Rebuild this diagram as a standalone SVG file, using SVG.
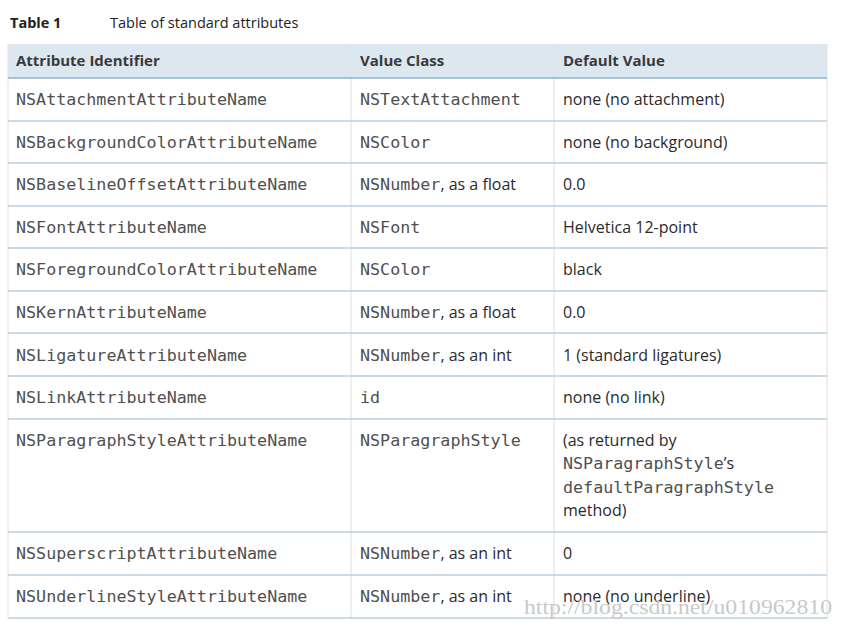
<svg xmlns="http://www.w3.org/2000/svg" width="844" height="629" viewBox="0 0 844 629">
<style>
.t{font-family:"Open Sans","Liberation Sans",sans-serif;font-size:16px;fill:#2b2b2b}
.m{font-family:"DejaVu Sans Mono","Liberation Mono",monospace;font-size:16.7px;fill:#505050}
.h{font-family:"Open Sans","Liberation Sans",sans-serif;font-size:15px;font-weight:bold;fill:#3a3a3a}
.sep{stroke:#b9cfdc;stroke-width:1.5}
.v{stroke:#e4e4e4;stroke-width:1.2}
.wm{font-family:"Liberation Serif","DejaVu Serif",serif;font-size:21px;fill:#c9c9c9}
</style>
<rect width="844" height="629" fill="#ffffff"/>
<g id="title">
<text x="10" y="28" class="h" style="font-size:14.5px;fill:#222">Table 1</text>
<text x="110" y="28" class="t" style="font-size:14.5px;fill:#222">Table of standard attributes</text>
</g>
<g id="grid">
<rect x="8" y="44" width="819" height="34" fill="#dde7f0"/>
<line x1="8" y1="44" x2="8" y2="618" class="v"/>
<line x1="827" y1="44" x2="827" y2="618" class="v"/>
<line x1="351" y1="44" x2="351" y2="618" class="v"/>
<line x1="554" y1="44" x2="554" y2="618" class="v"/>
<line x1="8" y1="78" x2="827" y2="78" stroke="#8fb2c8" stroke-width="1.5"/>
<line x1="8" y1="121" x2="827" y2="121" class="sep"/>
<line x1="8" y1="163" x2="827" y2="163" class="sep"/>
<line x1="8" y1="206" x2="827" y2="206" class="sep"/>
<line x1="8" y1="248" x2="827" y2="248" class="sep"/>
<line x1="8" y1="291" x2="827" y2="291" class="sep"/>
<line x1="8" y1="333" x2="827" y2="333" class="sep"/>
<line x1="8" y1="376" x2="827" y2="376" class="sep"/>
<line x1="8" y1="419" x2="827" y2="419" class="sep"/>
<line x1="8" y1="532" x2="827" y2="532" class="sep"/>
<line x1="8" y1="575" x2="827" y2="575" class="sep"/>
<line x1="8" y1="618" x2="827" y2="618" class="sep"/>
</g>
<g id="header">
<text x="16" y="66" class="h">Attribute Identifier</text>
<text x="360" y="66" class="h">Value Class</text>
<text x="563" y="66" class="h">Default Value</text>
</g>
<g id="row1">
<text x="16" y="105" class="m">NSAttachmentAttributeName</text>
<text x="360" y="105" class="m">NSTextAttachment</text>
<text x="563" y="105" class="t">none (no attachment)</text>
</g>
<g id="row2">
<text x="16" y="148" class="m">NSBackgroundColorAttributeName</text>
<text x="360" y="148" class="m">NSColor</text>
<text x="563" y="148" class="t">none (no background)</text>
</g>
<g id="row3">
<text x="16" y="190" class="m">NSBaselineOffsetAttributeName</text>
<text x="360" y="190"><tspan class="m">NSNumber</tspan><tspan class="t">, as a float</tspan></text>
<text x="563" y="190" class="t">0.0</text>
</g>
<g id="row4">
<text x="16" y="233" class="m">NSFontAttributeName</text>
<text x="360" y="233" class="m">NSFont</text>
<text x="563" y="233" class="t">Helvetica 12-point</text>
</g>
<g id="row5">
<text x="16" y="275" class="m">NSForegroundColorAttributeName</text>
<text x="360" y="275" class="m">NSColor</text>
<text x="563" y="275" class="t">black</text>
</g>
<g id="row6">
<text x="16" y="318" class="m">NSKernAttributeName</text>
<text x="360" y="318"><tspan class="m">NSNumber</tspan><tspan class="t">, as a float</tspan></text>
<text x="563" y="318" class="t">0.0</text>
</g>
<g id="row7">
<text x="16" y="361" class="m">NSLigatureAttributeName</text>
<text x="360" y="361"><tspan class="m">NSNumber</tspan><tspan class="t">, as an int</tspan></text>
<text x="563" y="361" class="t">1 (standard ligatures)</text>
</g>
<g id="row8">
<text x="16" y="403" class="m">NSLinkAttributeName</text>
<text x="360" y="403" class="m">id</text>
<text x="563" y="403" class="t">none (no link)</text>
</g>
<g id="row9">
<text x="16" y="446" class="m">NSParagraphStyleAttributeName</text>
<text x="360" y="446" class="m">NSParagraphStyle</text>
<text x="563" y="446" class="t">(as returned by</text>
<text x="563" y="469"><tspan class="m">NSParagraphStyle</tspan><tspan class="t">’s</tspan></text>
<text x="563" y="493" class="m">defaultParagraphStyle</text>
<text x="563" y="516" class="t">method)</text>
</g>
<g id="row10">
<text x="16" y="559" class="m">NSSuperscriptAttributeName</text>
<text x="360" y="559"><tspan class="m">NSNumber</tspan><tspan class="t">, as an int</tspan></text>
<text x="563" y="559" class="t">0</text>
</g>
<g id="row11">
<text x="16" y="602" class="m">NSUnderlineStyleAttributeName</text>
<text x="360" y="602"><tspan class="m">NSNumber</tspan><tspan class="t">, as an int</tspan></text>
<text x="563" y="602" class="t">none (no underline)</text>
</g>
<g id="watermark">
<text x="524" y="614" class="wm" textLength="308" lengthAdjust="spacingAndGlyphs">http://blog.csdn.net/u010962810</text>
</g>
</svg>
